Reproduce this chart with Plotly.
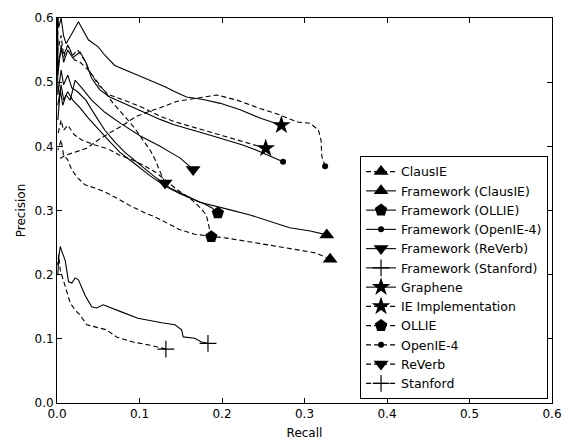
import plotly.graph_objects as go

# ---------------- data (recall, precision) ----------------
clausie_r = [0.001, 0.005, 0.008, 0.013, 0.018, 0.025, 0.034, 0.046, 0.058, 0.070, 0.088, 0.107, 0.119, 0.135, 0.149, 0.167, 0.185, 0.206, 0.228, 0.255, 0.276, 0.295, 0.313, 0.331]
clausie_p = [0.394, 0.410, 0.386, 0.379, 0.363, 0.351, 0.340, 0.335, 0.329, 0.321, 0.308, 0.296, 0.290, 0.279, 0.270, 0.263, 0.260, 0.257, 0.252, 0.246, 0.242, 0.238, 0.234, 0.224]

fw_clausie_r = [0.0005, 0.001, 0.005, 0.008, 0.013, 0.018, 0.025, 0.035, 0.046, 0.058, 0.070, 0.082, 0.101, 0.119, 0.137, 0.155, 0.173, 0.192, 0.210, 0.234, 0.258, 0.282, 0.307, 0.327]
fw_clausie_p = [0.62, 0.480, 0.519, 0.496, 0.511, 0.491, 0.485, 0.472, 0.449, 0.425, 0.407, 0.391, 0.371, 0.352, 0.335, 0.324, 0.313, 0.307, 0.301, 0.293, 0.283, 0.273, 0.268, 0.262]

fw_ollie_r = [0.001, 0.005, 0.008, 0.013, 0.019, 0.028, 0.038, 0.048, 0.062, 0.076, 0.095, 0.113, 0.131, 0.149, 0.167, 0.179, 0.188, 0.195]
fw_ollie_p = [0.464, 0.496, 0.472, 0.485, 0.472, 0.460, 0.444, 0.429, 0.410, 0.391, 0.372, 0.354, 0.338, 0.326, 0.316, 0.310, 0.304, 0.296]

fw_openie_r = [0.0005, 0.001, 0.005, 0.008, 0.013, 0.019, 0.028, 0.035, 0.042, 0.052, 0.064, 0.082, 0.101, 0.125, 0.141, 0.165, 0.189, 0.206, 0.225, 0.238, 0.258, 0.274]
fw_openie_p = [0.62, 0.511, 0.558, 0.531, 0.550, 0.538, 0.547, 0.531, 0.506, 0.488, 0.477, 0.467, 0.456, 0.442, 0.434, 0.425, 0.416, 0.410, 0.402, 0.396, 0.385, 0.376]

fw_reverb_r = [0.001, 0.004, 0.007, 0.011, 0.016, 0.022, 0.030, 0.042, 0.058, 0.078, 0.101, 0.125, 0.137, 0.149, 0.165]
fw_reverb_p = [0.441, 0.488, 0.464, 0.480, 0.472, 0.503, 0.491, 0.472, 0.453, 0.435, 0.416, 0.400, 0.391, 0.382, 0.364]

fw_stanford_r = [0.001, 0.002, 0.004, 0.006, 0.010, 0.014, 0.018, 0.022, 0.026, 0.034, 0.042, 0.048, 0.056, 0.078, 0.098, 0.127, 0.143, 0.151, 0.153, 0.167, 0.175, 0.183]
fw_stanford_p = [0.199, 0.226, 0.244, 0.236, 0.222, 0.189, 0.187, 0.195, 0.192, 0.168, 0.150, 0.148, 0.153, 0.142, 0.132, 0.125, 0.122, 0.114, 0.103, 0.101, 0.095, 0.093]

graphene_r = [0.0005, 0.002, 0.005, 0.008, 0.011, 0.014, 0.020, 0.026, 0.032, 0.038, 0.050, 0.058, 0.070, 0.082, 0.103, 0.131, 0.143, 0.157, 0.177, 0.198, 0.222, 0.246, 0.272]
graphene_p = [0.62, 0.585, 0.600, 0.572, 0.560, 0.568, 0.580, 0.594, 0.580, 0.566, 0.555, 0.542, 0.526, 0.519, 0.508, 0.493, 0.485, 0.477, 0.473, 0.467, 0.457, 0.444, 0.433]

ie_impl_r = [0.0005, 0.001, 0.005, 0.008, 0.013, 0.019, 0.025, 0.033, 0.040, 0.050, 0.062, 0.079, 0.101, 0.125, 0.141, 0.165, 0.189, 0.206, 0.225, 0.240, 0.253]
ie_impl_p = [0.60, 0.527, 0.550, 0.538, 0.558, 0.542, 0.550, 0.535, 0.516, 0.496, 0.481, 0.473, 0.462, 0.447, 0.439, 0.430, 0.421, 0.415, 0.407, 0.402, 0.397]

ollie_r = [0.001, 0.005, 0.008, 0.013, 0.021, 0.030, 0.046, 0.062, 0.076, 0.091, 0.107, 0.119, 0.131, 0.143, 0.153, 0.164, 0.173, 0.181, 0.184, 0.187]
ollie_p = [0.418, 0.441, 0.425, 0.433, 0.418, 0.410, 0.402, 0.396, 0.386, 0.379, 0.369, 0.360, 0.348, 0.335, 0.326, 0.316, 0.305, 0.293, 0.277, 0.259]

openie_r = [0.001, 0.010, 0.022, 0.036, 0.050, 0.064, 0.079, 0.095, 0.113, 0.125, 0.145, 0.169, 0.194, 0.218, 0.246, 0.270, 0.291, 0.307, 0.317, 0.320, 0.321, 0.325]
openie_p = [0.379, 0.386, 0.391, 0.397, 0.410, 0.421, 0.432, 0.446, 0.455, 0.460, 0.470, 0.475, 0.480, 0.472, 0.459, 0.449, 0.438, 0.436, 0.425, 0.410, 0.384, 0.369]

reverb_r = [0.0005, 0.001, 0.005, 0.008, 0.013, 0.021, 0.028, 0.038, 0.047, 0.058, 0.068, 0.076, 0.086, 0.096, 0.104, 0.113, 0.119, 0.124, 0.127, 0.131]
reverb_p = [0.62, 0.550, 0.573, 0.542, 0.558, 0.535, 0.531, 0.519, 0.503, 0.485, 0.467, 0.456, 0.441, 0.425, 0.410, 0.394, 0.379, 0.363, 0.354, 0.343]

stanford_r = [0.001, 0.002, 0.004, 0.006, 0.010, 0.016, 0.022, 0.028, 0.036, 0.048, 0.060, 0.072, 0.092, 0.113, 0.132]
stanford_p = [0.215, 0.231, 0.207, 0.199, 0.181, 0.156, 0.145, 0.137, 0.122, 0.118, 0.114, 0.103, 0.095, 0.090, 0.084]

x_ticks = [0.0, 0.1, 0.2, 0.3, 0.4, 0.5, 0.6]
y_ticks = [0.0, 0.1, 0.2, 0.3, 0.4, 0.5, 0.6]

FONT = "DejaVu Sans"
DASH = "5px,3px"

series = [
    ("ClausIE", clausie_r, clausie_p, DASH, "triangle-up", 13),
    ("Framework (ClausIE)", fw_clausie_r, fw_clausie_p, "solid", "triangle-up", 13),
    ("Framework (OLLIE)", fw_ollie_r, fw_ollie_p, "solid", "pentagon", 13),
    ("Framework (OpenIE-4)", fw_openie_r, fw_openie_p, "solid", "circle", 6),
    ("Framework (ReVerb)", fw_reverb_r, fw_reverb_p, "solid", "triangle-down", 13),
    ("Framework (Stanford)", fw_stanford_r, fw_stanford_p, "solid", "cross-thin", 12),
    ("Graphene", graphene_r, graphene_p, "solid", "star", 14),
    ("IE Implementation", ie_impl_r, ie_impl_p, DASH, "star", 14),
    ("OLLIE", ollie_r, ollie_p, DASH, "pentagon", 13),
    ("OpenIE-4", openie_r, openie_p, DASH, "circle", 6),
    ("ReVerb", reverb_r, reverb_p, DASH, "triangle-down", 13),
    ("Stanford", stanford_r, stanford_p, DASH, "cross-thin", 12),
]

fig = go.Figure()
for name, rec, prec, dash, symbol, size in series:
    # reverse so the end point (which carries the marker) comes first
    r = list(reversed(rec))
    p = list(reversed(prec))
    colors = ["black"] + ["rgba(0,0,0,0)"] * (len(r) - 1)
    if symbol == "cross-thin":
        mline = dict(width=1.2, color=colors)
    else:
        mline = dict(width=0)
    fig.add_trace(go.Scatter(
        x=r, y=p, mode="lines+markers", name=name,
        line=dict(color="black", width=1.1, dash=dash),
        marker=dict(symbol=symbol, size=size, color=colors, line=mline),
    ))

axis_common = dict(
    showline=True, linecolor="black", linewidth=1, mirror="ticks",
    ticks="inside", ticklen=5, tickcolor="black", tickwidth=1,
    showgrid=False, zeroline=False, tickformat=".1f", automargin=False,
    tickfont=dict(family=FONT, size=12, color="black"),
)

fig.update_layout(
    width=564, height=441,
    margin=dict(l=57, r=12, t=18, b=38),
    paper_bgcolor="white", plot_bgcolor="white",
    font=dict(family=FONT, size=12, color="black"),
    xaxis=dict(range=[0, 0.6], tickvals=x_ticks,
               title=dict(text="Recall", font=dict(family=FONT, size=12), standoff=8),
               **axis_common),
    yaxis=dict(range=[0, 0.6], tickvals=y_ticks,
               title=dict(text="Precision", font=dict(family=FONT, size=12), standoff=6),
               **axis_common),
    legend=dict(x=0.992, xanchor="right", y=0.0104, yanchor="bottom",
                bgcolor="white", bordercolor="black", borderwidth=1,
                font=dict(family=FONT, size=12.5, color="black"),
                traceorder="normal"),
    showlegend=True,
)

fig.write_html("out.html",
               config={"displayModeBar": False},
               post_script="document.body.style.margin='0';document.body.style.overflow='hidden';")
